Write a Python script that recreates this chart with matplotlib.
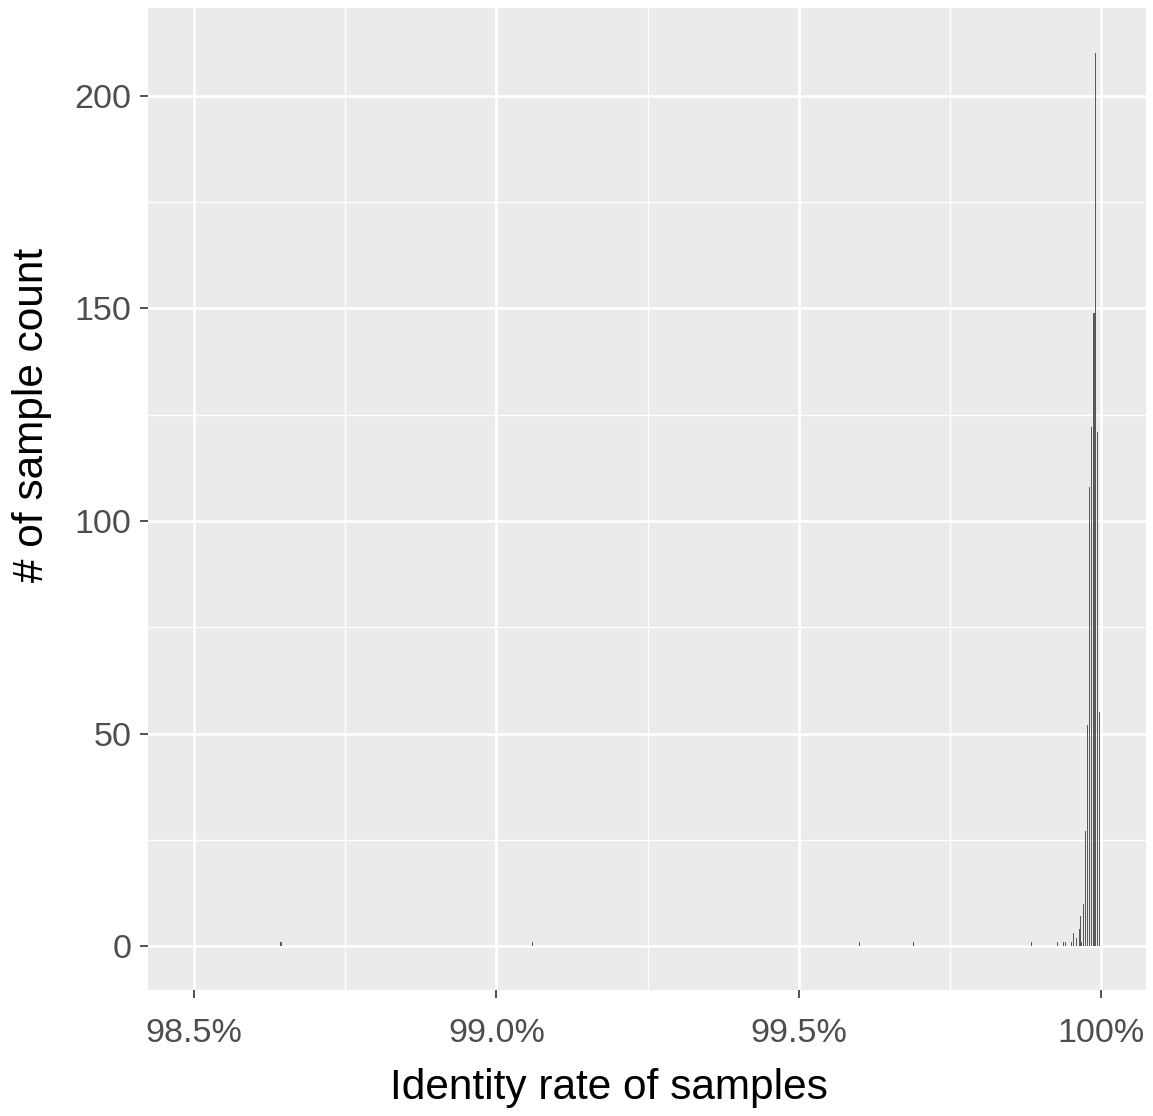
import numpy as np
import matplotlib
matplotlib.use("Agg")
import matplotlib.pyplot as plt

# identity rate (%) at bar centre, and count of samples
identity = [98.644, 99.059, 99.600, 99.689, 99.884, 99.927, 99.937, 99.941,
            99.951, 99.954, 99.959, 99.964, 99.966, 99.967, 99.971, 99.974,
            99.977, 99.981, 99.984, 99.988, 99.991, 99.994, 99.997]
counts = [1, 1, 1, 1, 1, 1, 1, 1,
          1, 3, 2, 4, 7, 1, 10, 27,
          52, 108, 122, 149, 210, 121, 55]

xticks = [98.5, 99.0, 99.5, 100.0]
xlabels = ['98.5%', '99.0%', '99.5%', '100%']
yticks = [0, 50, 100, 150, 200]

plt.rcParams['font.family'] = ['Liberation Sans', 'DejaVu Sans']

fig = plt.figure(figsize=(11.53, 11.16), dpi=100)
ax = fig.add_axes([148/1153, 126/1116, 998/1153, 982/1116])
ax.set_facecolor('#EBEBEB')

ax.bar(identity, counts, width=0.0019, color='#595959', edgecolor='none', zorder=3)

ax.set_xlim(98.424, 100.074)
ax.set_ylim(-10.35, 220.7)

ax.set_xticks(xticks)
ax.set_xticklabels(xlabels)
ax.set_yticks(yticks)
ax.set_xticks([98.75, 99.25, 99.75], minor=True)
ax.set_yticks([25, 75, 125, 175], minor=True)

ax.grid(which='major', color='white', lw=2.0, zorder=0)
ax.grid(which='minor', color='white', lw=1.0, zorder=0)
ax.set_axisbelow(True)
for s in ax.spines.values():
    s.set_visible(False)

ax.tick_params(which='major', length=6, width=1.2, color='#333333',
               labelcolor='#4D4D4D', labelsize=24.5)
ax.tick_params(axis='x', pad=14)
ax.tick_params(axis='y', pad=6)
ax.tick_params(which='minor', length=0)

fig.text(609/1153, 1 - 1088/1116, 'Identity rate of samples', fontsize=30.5,
         ha='center', va='center', color='black')
fig.text(32/1153, 1 - 415/1116, '# of sample count', fontsize=30.5,
         ha='center', va='center', rotation=90, color='black')

fig.savefig('out.png', dpi=100, facecolor='white')
